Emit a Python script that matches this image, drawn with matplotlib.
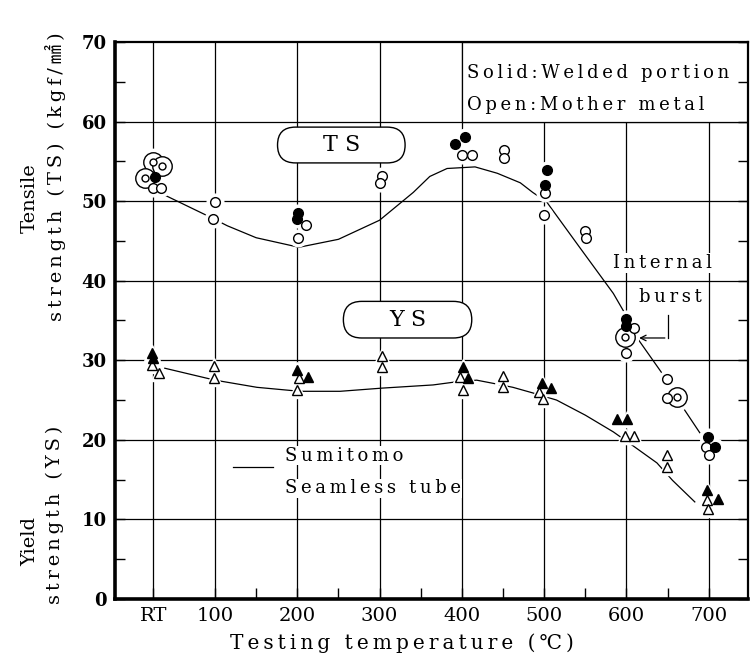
import numpy as np
import matplotlib
matplotlib.use('Agg')
import matplotlib.pyplot as plt
from matplotlib.patches import FancyBboxPatch, Rectangle
from matplotlib.ticker import FixedLocator

plt.rcParams['font.family'] = ['DejaVu Serif', 'Noto Sans CJK JP']

# axis ticks
temp_ticks = [25, 100, 200, 300, 400, 500, 600, 700]
temp_labels = ['RT', '100', '200', '300', '400', '500', '600', '700']
temp_minor = [150, 250, 350, 450, 550, 650]

# tensile strength, welded portion (solid circles)
ts_solid_t = [27, 201, 200, 404, 392, 503, 501, 599, 599, 699, 708]
ts_solid_v = [53.0, 48.5, 47.7, 58.0, 57.2, 53.9, 52.0, 35.2, 34.3, 20.4, 19.1]

# tensile strength, mother metal (open circles)
ts_open_t = [25, 34, 100, 98, 211, 201, 303, 300, 400, 412, 451, 451,
             501, 500, 550, 551, 609, 599, 649, 649, 697, 700]
ts_open_v = [51.6, 51.6, 49.9, 47.7, 47.0, 45.4, 53.1, 52.3, 55.8, 55.8, 56.4, 55.4,
             51.0, 48.2, 46.2, 45.4, 34.0, 30.9, 27.6, 25.2, 19.1, 18.1]

# internal burst tests (double circles)
ts_burst_t = [25, 36, 15, 598, 661]
ts_burst_v = [54.9, 54.4, 52.9, 32.9, 25.4]

# yield strength, welded portion (solid triangles)
ys_solid_t = [23, 25, 200, 213, 401, 407, 497, 508, 588, 601, 698, 711]
ys_solid_v = [30.9, 30.3, 28.8, 27.9, 29.1, 27.8, 27.1, 26.5, 22.6, 22.6, 13.7, 12.6]

# yield strength, mother metal (open triangles)
ys_open_t = [23, 32, 99, 99, 202, 200, 303, 303, 398, 401, 450, 450,
             494, 499, 598, 609, 649, 649, 698, 699]
ys_open_v = [29.4, 28.4, 29.3, 27.8, 27.8, 26.3, 30.5, 29.1, 27.9, 26.3, 28.0, 26.6,
             26.0, 25.1, 20.5, 20.5, 18.1, 16.6, 12.4, 11.3]

# Sumitomo seamless tube curves
ts_curve_t = [38, 96, 115, 150, 202, 250, 300, 341, 361, 382, 416, 443, 471, 486,
              503, 543, 584, 598, 613, 643, 669, 689]
ts_curve_v = [50.8, 47.9, 46.9, 45.4, 44.2, 45.2, 47.6, 51.1, 53.1, 54.1, 54.3, 53.5, 52.3, 51.1,
              49.9, 44.2, 38.4, 35.9, 32.8, 28.4, 24.0, 20.9]
ys_curve_t = [39, 100, 151, 203, 252, 303, 365, 394, 418, 438, 462, 486, 515, 550,
              584, 610, 637, 656, 683]
ys_curve_v = [29.0, 27.5, 26.6, 26.1, 26.1, 26.5, 26.9, 27.3, 27.5, 27.1, 26.6, 25.9, 25.0, 23.1,
              21.0, 19.1, 17.1, 14.9, 12.2]


def spaced(s):
    # wide letter spacing like the original typesetting
    return '\u2009'.join(s)


fig = plt.figure(figsize=(7.54, 6.64), dpi=100)
ax = fig.add_axes([0.1525, 0.0979, 0.8395, 0.8389])
ax.set_xlim(-21.5, 747.6)
ax.set_ylim(0, 70)
ax.set_axisbelow(False)

for t in temp_ticks:
    ax.axvline(t, color='k', lw=0.9, zorder=1)
for v in range(10, 70, 10):
    ax.axhline(v, color='k', lw=0.9, zorder=1)

ax.plot(ts_curve_t, ts_curve_v, color='k', lw=0.9, zorder=2)
ax.plot(ys_curve_t, ys_curve_v, color='k', lw=0.9, zorder=2)


def points(t, v, marker, ms, face, z):
    ax.plot(t, v, ls='none', marker=marker, ms=ms + 5, mfc='white', mec='white', zorder=3)
    ax.plot(t, v, ls='none', marker=marker, ms=ms, mfc=face, mec='k', mew=1.0, zorder=z)


points(ts_burst_t, ts_burst_v, 'o', 14, 'white', 4)
ax.plot(ts_burst_t, ts_burst_v, ls='none', marker='o', ms=5, mfc='white', mec='k', mew=1.0, zorder=4.5)
points(ts_open_t, ts_open_v, 'o', 7, 'white', 5)
points(ts_solid_t, ts_solid_v, 'o', 7, 'k', 6)
points(ys_open_t, ys_open_v, '^', 7, 'white', 5)
points(ys_solid_t, ys_solid_v, '^', 7, 'k', 6)

# pixel size of one data unit, for round-ended boxes
p0 = ax.transData.transform((0, 0))
px_x = ax.transData.transform((1, 0))[0] - p0[0]
px_y = ax.transData.transform((0, 1))[1] - p0[1]
aspect = px_x / px_y


def stadium(x0, x1, y0, y1, label):
    r = (y1 - y0) / aspect / 2
    box = FancyBboxPatch((x0, y0), x1 - x0, y1 - y0,
                         boxstyle=f'round,pad=0,rounding_size={r}',
                         mutation_aspect=aspect, fc='white', ec='k', lw=1.0, zorder=2.4)
    ax.add_patch(box)
    ax.text((x0 + x1) / 2, (y0 + y1) / 2, label, ha='center', va='center',
            fontsize=16, zorder=2.6)


stadium(176, 331, 54.8, 59.3, 'T S')
stadium(256, 412, 32.8, 37.4, 'Y S')

# legend box top right
ax.add_patch(Rectangle((400, 60), 747.6 - 400, 10, fc='white', ec='k', lw=0.9, zorder=2.2))
ax.text(406, 66.1, spaced('Solid:Welded portion'), fontsize=13, va='center', ha='left', zorder=2.6)
ax.text(406, 62.1, spaced('Open:Mother metal'), fontsize=13, va='center', ha='left', zorder=2.6)

# internal burst note
bb = dict(fc='white', ec='none', pad=0.5)
ax.text(644, 42.2, spaced('Internal'), fontsize=13, ha='center', va='center', bbox=bb, zorder=2.6)
ax.text(653, 37.9, spaced('burst'), fontsize=13, ha='center', va='center', bbox=bb, zorder=2.6)
ax.plot([650, 650], [35.7, 32.8], color='k', lw=0.9, zorder=6)
ax.annotate('', xy=(612, 32.8), xytext=(650, 32.8),
            arrowprops=dict(arrowstyle='->', lw=0.9, color='k'), zorder=6)

# curve legend
ax.plot([122, 170], [16.6, 16.6], color='k', lw=0.9, zorder=2)
ax.text(185, 18.0, spaced('Sumitomo'), fontsize=13, ha='left', va='center', bbox=bb, zorder=2.6)
ax.text(185, 13.9, spaced('Seamless tube'), fontsize=13, ha='left', va='center', bbox=bb, zorder=2.6)

# ticks
ax.set_xticks(temp_ticks, temp_labels)
ax.xaxis.set_minor_locator(FixedLocator(temp_minor))
ax.tick_params(axis='x', which='both', direction='in', length=8, width=1.0, labelsize=14, pad=6)
ax.set_yticks(range(0, 71, 10))
ax.yaxis.set_minor_locator(FixedLocator(range(5, 70, 10)))
ax.tick_params(axis='y', which='both', direction='in', length=7, width=1.0, right=True,
               labelsize=13, pad=6)
for lab in ax.get_yticklabels():
    lab.set_fontweight('bold')

for side in ['left', 'bottom']:
    ax.spines[side].set_linewidth(2.6)
for side in ['right', 'top']:
    ax.spines[side].set_linewidth(1.6)

# axis labels
fig.text(402 / 754, 1 - 643 / 664, spaced('Testing temperature (℃)'), fontsize=14.5,
         ha='center', va='center')
fig.text(30 / 754, 1 - 198 / 664, 'Tensile', rotation=90, fontsize=14, ha='center', va='center')
fig.text(55 / 754, 1 - 177 / 664, spaced('strength (TS) (kgf/㎟)'), rotation=90, fontsize=14,
         ha='center', va='center')
fig.text(30 / 754, 1 - 542 / 664, 'Yield', rotation=90, fontsize=14, ha='center', va='center')
fig.text(55 / 754, 1 - 515 / 664, spaced('strength (YS)'), rotation=90, fontsize=14,
         ha='center', va='center')

fig.savefig('out.png', dpi=100)
